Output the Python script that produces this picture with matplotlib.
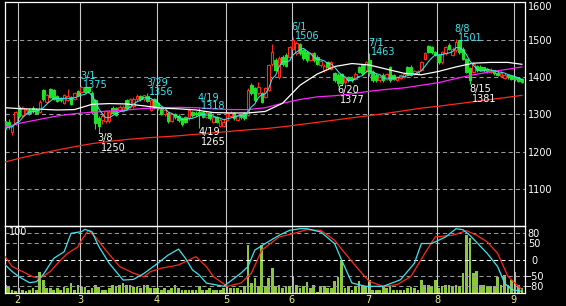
import pandas as pd
from matplotlib import pyplot as plt
from matplotlib.patches import Rectangle

W, H = 566, 306

# trading days shown on the chart, one row per month
months = [1, 2, 3, 4, 5, 6, 7, 8, 9]
month_days = [
    [26, 27, 28, 31],
    [1, 2, 3, 4, 7, 8, 9, 10, 14, 15, 16, 17, 18, 21, 22, 24, 25, 28],
    [1, 2, 3, 4, 7, 8, 9, 10, 11, 14, 15, 16, 17, 18, 22, 23, 24, 25, 28, 29, 30, 31],
    [1, 4, 5, 6, 7, 8, 11, 12, 13, 14, 15, 18, 19, 20, 21, 22, 25, 26, 27, 28],
    [2, 6, 9, 10, 11, 12, 13, 16, 17, 18, 19, 20, 23, 24, 25, 26, 27, 30, 31],
    [1, 2, 3, 6, 7, 8, 9, 10, 13, 14, 15, 16, 17, 20, 21, 22, 23, 24, 27, 28, 29, 30],
    [1, 4, 5, 6, 7, 8, 11, 12, 13, 14, 15, 19, 20, 21, 22, 25, 26, 27, 28, 29],
    [1, 2, 3, 4, 5, 8, 9, 10, 12, 15, 16, 17, 18, 19, 22, 23, 24, 25, 26, 29, 30, 31],
    [1, 2, 5],
]

opens = [
    [1282, 1280, 1252, 1276],
    [1320, 1298, 1305, 1312, 1318, 1312, 1307, 1365, 1334, 1369, 1366, 1350, 1342, 1330, 1338, 1347, 1340, 1362],
    [1360, 1370, 1372, 1358, 1338, 1290, 1285, 1283, 1282, 1318, 1316, 1312, 1310, 1338, 1320, 1322, 1340, 1349, 1340, 1348, 1312, 1340],
    [1330, 1315, 1300, 1303, 1283, 1302, 1296, 1290, 1292, 1290, 1306, 1305, 1306, 1306, 1294, 1303, 1280, 1292, 1268, 1268],
    [1285, 1295, 1303, 1285, 1298, 1303, 1298, 1380, 1370, 1356, 1356, 1347, 1366, 1436, 1445, 1400, 1454, 1460, 1454],
    [1476, 1464, 1489, 1472, 1468, 1446, 1463, 1454, 1432, 1418, 1440, 1422, 1410, 1405, 1409, 1386, 1400, 1398, 1396, 1427, 1432, 1418],
    [1445, 1414, 1405, 1392, 1405, 1396, 1427, 1405, 1393, 1398, 1400, 1427, 1427, 1409, 1409, 1418, 1449, 1482, 1480, 1467],
    [1458, 1440, 1463, 1485, 1458, 1471, 1498, 1476, 1449, 1423, 1414, 1430, 1428, 1426, 1422, 1414, 1418, 1412, 1404, 1398, 1406, 1404],
    [1400, 1398, 1396],
]
highs = [
    [1290, 1288, 1272, 1310],
    [1324, 1322, 1318, 1316, 1322, 1316, 1338, 1368, 1355, 1371, 1368, 1352, 1346, 1355, 1368, 1350, 1360, 1366],
    [1375, 1373, 1374, 1362, 1340, 1295, 1300, 1312, 1312, 1322, 1320, 1324, 1324, 1340, 1345, 1346, 1354, 1352, 1353, 1356, 1342, 1344],
    [1334, 1318, 1316, 1306, 1304, 1305, 1300, 1294, 1296, 1316, 1310, 1310, 1318, 1310, 1308, 1306, 1298, 1295, 1290, 1288],
    [1306, 1310, 1306, 1302, 1300, 1306, 1370, 1385, 1374, 1388, 1360, 1374, 1436, 1487, 1450, 1455, 1458, 1464, 1484],
    [1506, 1496, 1492, 1476, 1470, 1468, 1468, 1458, 1446, 1434, 1444, 1444, 1414, 1410, 1412, 1404, 1404, 1402, 1413, 1430, 1436, 1444],
    [1463, 1418, 1410, 1404, 1410, 1412, 1430, 1408, 1404, 1408, 1412, 1430, 1432, 1418, 1420, 1444, 1466, 1486, 1484, 1470],
    [1462, 1470, 1484, 1490, 1480, 1501, 1500, 1480, 1452, 1428, 1440, 1433, 1431, 1428, 1425, 1424, 1420, 1415, 1416, 1410, 1409, 1406],
    [1403, 1400, 1398],
]
lows = [
    [1240, 1262, 1246, 1272],
    [1290, 1294, 1300, 1298, 1304, 1300, 1304, 1336, 1330, 1344, 1338, 1332, 1334, 1328, 1335, 1325, 1338, 1348],
    [1356, 1356, 1358, 1300, 1262, 1250, 1275, 1278, 1278, 1300, 1295, 1308, 1306, 1312, 1316, 1318, 1336, 1336, 1336, 1332, 1308, 1314],
    [1312, 1298, 1296, 1278, 1280, 1288, 1280, 1270, 1276, 1286, 1294, 1296, 1265, 1290, 1290, 1286, 1276, 1276, 1266, 1266],
    [1282, 1292, 1286, 1282, 1288, 1286, 1295, 1352, 1334, 1352, 1330, 1344, 1362, 1430, 1416, 1396, 1430, 1426, 1450],
    [1472, 1460, 1460, 1446, 1440, 1442, 1440, 1432, 1428, 1414, 1422, 1418, 1388, 1377, 1380, 1382, 1388, 1388, 1392, 1410, 1406, 1414],
    [1404, 1388, 1386, 1388, 1388, 1392, 1388, 1392, 1390, 1395, 1398, 1405, 1402, 1406, 1406, 1415, 1446, 1464, 1462, 1455],
    [1436, 1436, 1460, 1472, 1455, 1468, 1462, 1445, 1410, 1381, 1410, 1414, 1416, 1414, 1412, 1410, 1406, 1402, 1400, 1395, 1396, 1393],
    [1390, 1387, 1383],
]
closes = [
    [1262, 1270, 1268, 1306],
    [1295, 1318, 1312, 1303, 1308, 1305, 1334, 1340, 1351, 1347, 1342, 1336, 1338, 1352, 1350, 1328, 1356, 1352],
    [1372, 1360, 1362, 1307, 1276, 1270, 1296, 1308, 1307, 1303, 1298, 1320, 1320, 1316, 1342, 1341, 1350, 1340, 1352, 1335, 1338, 1318],
    [1318, 1302, 1312, 1282, 1300, 1292, 1285, 1274, 1280, 1312, 1298, 1300, 1298, 1294, 1303, 1290, 1294, 1280, 1285, 1280],
    [1303, 1305, 1290, 1298, 1292, 1290, 1365, 1356, 1338, 1374, 1334, 1370, 1432, 1468, 1420, 1450, 1436, 1430, 1480],
    [1498, 1490, 1465, 1450, 1445, 1463, 1445, 1436, 1442, 1430, 1427, 1440, 1392, 1385, 1383, 1400, 1392, 1392, 1409, 1414, 1410, 1440],
    [1410, 1392, 1392, 1400, 1392, 1409, 1392, 1396, 1400, 1405, 1409, 1409, 1405, 1416, 1416, 1440, 1463, 1468, 1467, 1458],
    [1440, 1467, 1480, 1476, 1476, 1494, 1467, 1449, 1414, 1391, 1436, 1418, 1420, 1418, 1416, 1420, 1410, 1406, 1412, 1405, 1400, 1396],
    [1394, 1390, 1386],
]
volumes = [
    [14, 11, 5, 3],
    [8, 6, 3, 5, 8, 6, 34, 21, 8, 8, 6, 8, 6, 10, 8, 16, 6, 14],
    [10, 10, 6, 8, 14, 10, 6, 6, 8, 13, 11, 13, 16, 14, 14, 10, 10, 8, 14, 14, 8, 8],
    [8, 6, 8, 5, 8, 14, 8, 5, 5, 5, 6, 6, 11, 6, 6, 8, 6, 5, 5, 8],
    [10, 8, 8, 8, 5, 11, 78, 16, 24, 11, 77, 11, 24, 40, 11, 13, 8, 11, 11],
    [26, 14, 8, 11, 18, 8, 14, 2, 11, 11, 8, 8, 19, 26, 54, 8, 11, 6, 11, 19, 14, 11],
    [21, 6, 5, 6, 11, 8, 11, 5, 6, 5, 5, 8, 10, 8, 5, 21, 13, 14, 11, 21],
    [8, 11, 14, 14, 11, 14, 11, 32, 93, 88, 32, 35, 14, 14, 11, 11, 11, 26, 14, 30, 14, 21],
    [34, 13, 8],
]

# longer moving averages every 5 sessions
ma_days = [0, 5, 10, 15, 20, 25, 30, 35, 40, 45, 50, 55, 60, 65, 70, 75,
           80, 85, 90, 95, 100, 105, 110, 115, 120, 125, 130, 135, 140, 145, 149]
ma25 = [1318, 1315, 1314, 1312, 1313, 1327, 1329, 1328, 1323, 1317, 1315, 1312, 1305, 1304, 1304, 1308,
        1330, 1378, 1408, 1428, 1436, 1432, 1421, 1410, 1406, 1415, 1427, 1437, 1439, 1439, 1434]
ma75 = [1266, 1278, 1287, 1296, 1302, 1306, 1309, 1312, 1316, 1318, 1319, 1318, 1315, 1313, 1313, 1318,
        1330, 1340, 1347, 1350, 1355, 1362, 1367, 1371, 1378, 1385, 1396, 1406, 1414, 1421, 1427]
ma200 = [1173, 1185, 1195, 1205, 1214, 1222, 1228, 1233, 1237, 1240, 1243, 1247, 1251, 1255, 1259, 1262,
         1267, 1273, 1279, 1285, 1291, 1297, 1303, 1310, 1317, 1322, 1328, 1334, 1340, 1346, 1351]

# RCI lines in the lower panel
rci_fast_days = [0, 2, 4, 7, 9, 11, 14, 17, 19, 22, 23, 25, 27, 30, 34, 37, 40, 44, 47, 50, 52, 54, 56, 58,
                 63, 68, 70, 72, 75, 79, 82, 85, 87, 91, 95, 97, 100, 104, 109, 114, 118, 120, 123, 127,
                 130, 132, 134, 139, 142, 144, 146, 149]
rci_fast = [-16, -36, -52, -70, -67, -45, 4, 24, 80, 85, 92, 85, 40, -11, -62, -60, -42, -11, 14, 32, 4, -31,
            -47, -71, -81, -41, -21, 29, 49, 74, 89, 94, 94, 84, 49, -1, -71, -81, -81, -61, -11, 49, 49, 69,
            94, 91, 74, 19, -21, -71, -91, -96]
rci_slow_days = [0, 2, 5, 8, 10, 13, 16, 18, 21, 22, 24, 26, 29, 33, 37, 40, 42, 45, 50, 55, 58, 60, 64, 68,
                 71, 74, 79, 83, 87, 91, 95, 98, 102, 105, 109, 113, 117, 121, 124, 129, 133, 136, 139, 142,
                 145, 147, 149]
rci_slow = [9, -21, -36, -52, -57, -36, -1, 19, 39, 59, 89, 69, 29, -21, -41, -52, -36, -26, -16, 9, -21, -51,
            -81, -71, -41, 29, 69, 79, 91, 89, 59, 19, -31, -66, -81, -76, -51, 19, 69, 74, 88, 74, 54, 19,
            -51, -71, -91]

high_marks = ["3/1", "3/29", "4/19", "6/1", "7/1", "8/8"]
low_marks = ["3/8", "4/19", "6/20", "8/15"]

RED = "#ff2a1a"
GREEN = "#22e02a"
CYAN = "#3ce6f0"
MAGENTA = "#ff22ff"
VOLCOL = "#8cc83c"
GRID = "#9a9a9a"
VGRID = "#c8c8c8"
TICKCOL = "#f0f08c"
XLIM = (-0.19, 149.75)


def flat(rows):
    return [v for row in rows for v in row]


def draw_price(ax, df, labels, month_pos):
    ax.set_facecolor("black")
    for lvl in [1100, 1200, 1300, 1400, 1500]:
        ax.axhline(lvl, color=GRID, lw=0.75, ls=(0, (4, 3)), zorder=1)
    for p in month_pos:
        ax.axvline(p, color=VGRID, lw=0.8, zorder=1)

    bw = 0.74
    for i, r in df.iterrows():
        up = r.c >= r.o
        col = RED if up else GREEN
        ax.vlines(i, r.l, r.h, color=col, lw=0.8, zorder=2)
        ax.add_patch(Rectangle((i - bw / 2, min(r.o, r.c)), bw, max(abs(r.c - r.o), 1.5),
                               facecolor="black" if up else col, edgecolor=col,
                               lw=0.8, zorder=3))

    ma5 = df.c.rolling(5, min_periods=1).mean()
    ax.plot(ma_days, ma200, color=RED, lw=0.9, zorder=4)
    ax.plot(ma_days, ma75, color=MAGENTA, lw=0.9, zorder=4)
    ax.plot(ma_days, ma25, color="white", lw=0.9, zorder=4)
    ax.plot(df.index, ma5, color=CYAN, lw=0.75, zorder=5)

    for d in high_marks:
        i = labels.index(d)
        v = df.h[i]
        ax.annotate(d, (i, v), xytext=(-1.5, 7.2), textcoords="offset pixels",
                    color=CYAN, fontsize=7, va="baseline", zorder=6)
        ax.annotate(str(v), (i, v), xytext=(1.5, -1.5), textcoords="offset pixels",
                    color=CYAN, fontsize=7, va="baseline", zorder=6)
    for d in low_marks:
        i = labels.index(d)
        v = df.l[i]
        ax.annotate(d, (i, v), xytext=(-1, -7.8), textcoords="offset pixels",
                    color="white", fontsize=7, va="baseline", zorder=6)
        ax.annotate(str(v), (i, v), xytext=(2, -17.4), textcoords="offset pixels",
                    color="white", fontsize=7, va="baseline", zorder=6)

    ax.set_xlim(*XLIM)
    ax.set_ylim(1002, 1600.4)
    ax.set_xticks([])
    ax.yaxis.tick_right()
    ax.set_yticks([1100, 1200, 1300, 1400, 1500, 1600])
    ax.tick_params(axis="y", length=0, pad=2.5, labelcolor="white", labelsize=7)
    # top label sits against the figure edge
    ax.get_yticklabels()[-1].set_va("top")
    for s in ax.spines.values():
        s.set_color("white")
        s.set_linewidth(0.9)


def draw_lower(ax_vol, ax, df, month_pos):
    ax_vol.set_facecolor("black")
    ax_vol.bar(df.index, df.v, width=0.78, color=VOLCOL, zorder=2)
    ax_vol.set_xlim(*XLIM)
    ax_vol.set_ylim(0, 107.7)
    ax_vol.axis("off")

    ax.set_facecolor("none")
    for lvl in [80, 50, -50, -80]:
        ax.axhline(lvl, color=GRID, lw=0.75, ls=(0, (4, 3)), zorder=1)
    ax.axhline(0, color="white", lw=0.75, ls=(0, (4, 3)), zorder=1)
    for p in month_pos:
        ax.axvline(p, color=VGRID, lw=0.8, zorder=1)
    ax.plot(rci_slow_days, rci_slow, color=RED, lw=0.9, zorder=3)
    ax.plot(rci_fast_days, rci_fast, color=CYAN, lw=0.9, zorder=4)

    ax.set_xlim(*XLIM)
    ax.set_ylim(-102.2, 102.2)
    ax.set_xticks(month_pos)
    ax.set_xticklabels([str(m) for m in months[1:]])
    ax.tick_params(axis="x", length=0, pad=1.5, labelcolor=TICKCOL, labelsize=7)
    ax.yaxis.tick_right()
    ax.set_yticks([80, 50, 0, -50, -80])
    ax.tick_params(axis="y", length=0, pad=6.8, labelcolor="white", labelsize=7)
    for t in ax.get_yticklabels():
        t.set_ha("center")
    for s in ax.spines.values():
        s.set_color("white")
        s.set_linewidth(0.9)


def main():
    labels = [f"{m}/{d}" for m, days in zip(months, month_days) for d in days]
    df = pd.DataFrame({"o": flat(opens), "h": flat(highs), "l": flat(lows),
                       "c": flat(closes), "v": flat(volumes)})
    month_pos = [labels.index(f"{m}/{days[0]}") - 0.35
                 for m, days in zip(months[1:], month_days[1:])]

    fig = plt.figure(figsize=(W / 100, H / 100), dpi=100, facecolor="black")
    left, width = 4.5 / W, 520 / W
    ax_price = fig.add_axes([left, (H - 226) / H, width, 224 / H])
    lower = [left, (H - 293.3) / H, width, 67.3 / H]
    ax_vol = fig.add_axes(lower)
    ax_rci = fig.add_axes(lower)

    draw_price(ax_price, df, labels, month_pos)
    draw_lower(ax_vol, ax_rci, df, month_pos)
    fig.text(9 / W, 1 - 231.7 / H, "100", color="white", fontsize=7, va="center")

    fig.savefig("out.png", dpi=100, facecolor="black")


if __name__ == "__main__":
    main()
